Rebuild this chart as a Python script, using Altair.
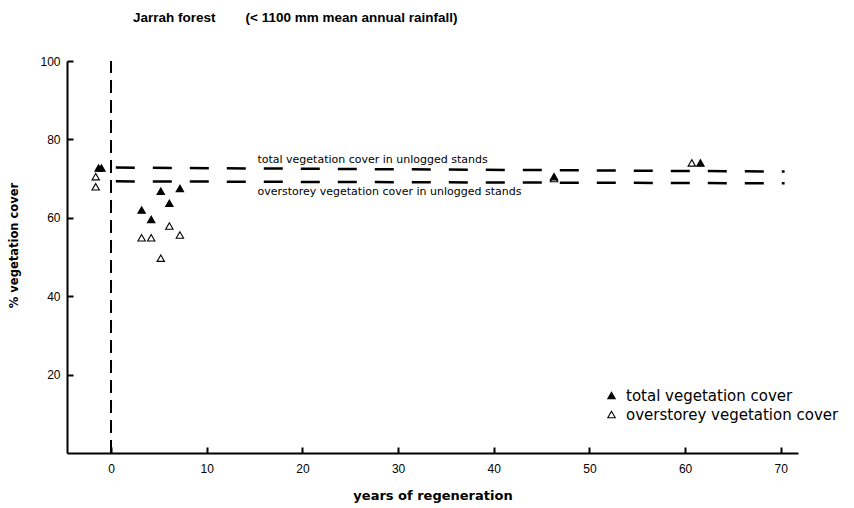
import altair as alt
import pandas as pd

# ---- data ----
series_names = ["total vegetation cover", "overstorey vegetation cover"]

total_years = [-1.3, -1.0, 3.2, 4.2, 5.2, 6.1, 7.2, 46.3, 61.6]
total_cover = [72.7, 72.7, 62.0, 59.6, 66.8, 63.7, 67.5, 70.5, 74.0]

over_years = [-1.6, -1.6, 3.2, 4.2, 5.2, 6.1, 7.2, 46.3, 60.7]
over_cover = [70.5, 67.9, 54.9, 54.9, 49.7, 57.9, 55.6, 70.0, 74.0]

# unlogged-stand reference lines (start/end year, start/end cover)
ref_labels = ["total vegetation cover in unlogged stands",
              "overstorey vegetation cover in unlogged stands"]
ref_x_start = [0.5, 0.5]
ref_x_end = [70.4, 70.4]
ref_y_start = [72.8, 69.3]
ref_y_end = [71.8, 68.8]
ref_label_x = [15.3, 15.3]
ref_label_y = [74.0, 65.8]

x_ticks = [0, 10, 20, 30, 40, 50, 60, 70]
y_ticks = [20, 40, 60, 80, 100]

title_text = "Jarrah forest" + "\u00a0" * 8 + "(< 1100 mm mean annual rainfall)"

# ---- tables ----
pts = pd.DataFrame({
    "years": over_years + total_years,
    "cover": over_cover + total_cover,
    "series": [series_names[1]] * len(over_years) + [series_names[0]] * len(total_years),
})
refs = pd.DataFrame({
    "label": ref_labels, "x": ref_x_start, "x2": ref_x_end,
    "y": ref_y_start, "y2": ref_y_end, "lx": ref_label_x, "ly": ref_label_y,
})
zero_line = pd.DataFrame({"x": [0], "y": [0], "y2": [100]})
title_df = pd.DataFrame({"t": [title_text]})

W, H = 731, 392
FONT = "Liberation Sans, Arial, Helvetica, sans-serif"
WIDE = "DejaVu Sans, Verdana, sans-serif"

xs = alt.Scale(domain=[-4.6, 71.8], nice=False, zero=False)
ys = alt.Scale(domain=[0, 100], nice=False, zero=False)

x_main = alt.X("years:Q", scale=xs, axis=alt.Axis(
    values=x_ticks, orient="bottom", title="years of regeneration", ticks=False,
    labelPadding=10, titlePadding=15, grid=False, titleFontSize=13, titleFont=WIDE))
y_main = alt.Y("cover:Q", scale=ys, axis=alt.Axis(
    values=y_ticks, orient="left", title="% vegetation cover", ticks=False,
    labelPadding=7, grid=False, titleX=-48, titleY=184, titleBaseline="bottom",
    titleAngle=270, titleFontSize=11.5, titleFont=WIDE))

points = alt.Chart(pts).mark_point(
    shape="triangle-up", filled=True, size=55, stroke="black", strokeWidth=1.1, opacity=1
).encode(
    x=x_main,
    y=y_main,
    fill=alt.Fill("series:N", scale=alt.Scale(domain=series_names, range=["black", "white"]),
                  legend=alt.Legend(title=None, orient="none", legendX=537, legendY=327,
                                    symbolType="triangle-up", symbolStrokeColor="black",
                                    symbolStrokeWidth=1.1, symbolSize=55, labelFontSize=15,
                                    labelFont=WIDE, labelColor="black", rowPadding=3,
                                    labelOffset=7, labelLimit=400)),
)

# inward ticks via axes on the opposite sides, pushed inward
tick_layer = alt.Chart(pts).mark_point(opacity=0).encode(
    x=alt.X("years:Q", scale=xs, axis=alt.Axis(
        values=x_ticks, orient="top", offset=-H, labels=False, domain=False,
        ticks=True, tickSize=6, tickWidth=2, tickColor="black", title=None, grid=False)),
    y=alt.Y("cover:Q", scale=ys, axis=alt.Axis(
        values=y_ticks, orient="right", offset=-W, labels=False, domain=False,
        ticks=True, tickSize=6, tickWidth=2, tickColor="black", title=None, grid=False)),
)

vline = alt.Chart(zero_line).mark_rule(color="black", strokeWidth=2, strokeDash=[13, 7]).encode(
    x=alt.X("x:Q", scale=xs, axis=None), y=alt.Y("y:Q", scale=ys, axis=None), y2="y2:Q")

hlines = alt.Chart(refs).mark_rule(color="black", strokeWidth=2.5, strokeDash=[19, 18]).encode(
    x=alt.X("x:Q", scale=xs, axis=None), x2="x2:Q",
    y=alt.Y("y:Q", scale=ys, axis=None), y2="y2:Q")

labels = alt.Chart(refs).mark_text(align="left", baseline="alphabetic", fontSize=11,
                                   font=WIDE, color="black").encode(
    x=alt.X("lx:Q", scale=xs, axis=None), y=alt.Y("ly:Q", scale=ys, axis=None), text="label:N")

title = alt.Chart(title_df).mark_text(align="left", baseline="alphabetic", fontSize=13.5,
                                      fontWeight="bold", font=FONT, color="black").encode(
    text="t:N", x=alt.value(66), y=alt.value(-39))

chart = alt.layer(vline, hlines, labels, points, tick_layer, title).resolve_axis(
    x="independent", y="independent"
).properties(
    width=W, height=H,
    background="white",
    autosize=alt.AutoSizeParams(type="none"),
    padding={"left": 67, "top": 61, "right": 56, "bottom": 55},
).configure_view(strokeOpacity=0, strokeWidth=0).configure_axis(
    domainColor="black", domainWidth=2, labelColor="black", labelFontSize=12,
    labelFont=FONT, titleFontWeight="bold", titleColor="black"
)

chart.save("out.html", embed_options={"renderer": "svg", "actions": False})
